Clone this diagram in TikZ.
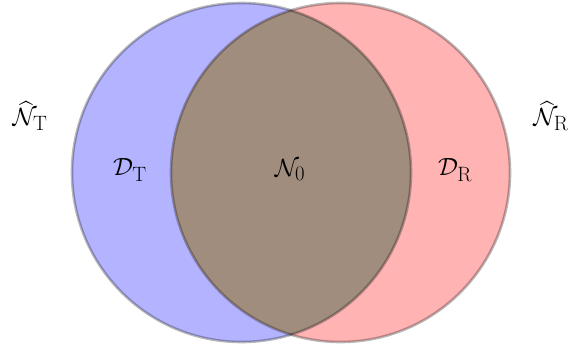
\documentclass[tikz,border=0pt]{standalone}
\usepackage{amsmath}
\definecolor{setblue}{RGB}{179,179,255}
\definecolor{setred}{RGB}{255,179,179}
\definecolor{setmix}{RGB}{160,141,126}
\tikzset{
  setborder/.style={draw=black, draw opacity=0.28, line width=2.6pt},
  setlabel/.style={inner sep=0pt, font=\fontsize{28}{32}\selectfont},
}
\begin{document}
\begin{tikzpicture}[x=1pt,y=1pt]
\useasboundingbox (0,0) rectangle (572,351);
\coordinate (cT) at (241.5,178.5);
\coordinate (cR) at (340.5,178.5);
\fill[setblue] (cT) circle[radius=169.5];
\fill[setred] (cR) circle[radius=169.5];
\begin{scope}
  \clip (cT) circle[radius=169.5];
  \fill[setmix] (cR) circle[radius=169.5];
\end{scope}
\draw[setborder] (cT) circle[radius=169.5];
\draw[setborder] (cR) circle[radius=169.5];
\node[setlabel] (nT) at (30,235) {$\widehat{\mathcal{N}}_{\mathrm{T}}$};
\node[setlabel] (nR) at (551,235) {$\widehat{\mathcal{N}}_{\mathrm{R}}$};
\node[setlabel] (dT) at (130,181) {$\mathcal{D}_{\mathrm{T}}$};
\node[setlabel] (n0) at (290,181) {$\mathcal{N}_0$};
\node[setlabel] (dR) at (455,181) {$\mathcal{D}_{\mathrm{R}}$};
\end{tikzpicture}
\end{document}
